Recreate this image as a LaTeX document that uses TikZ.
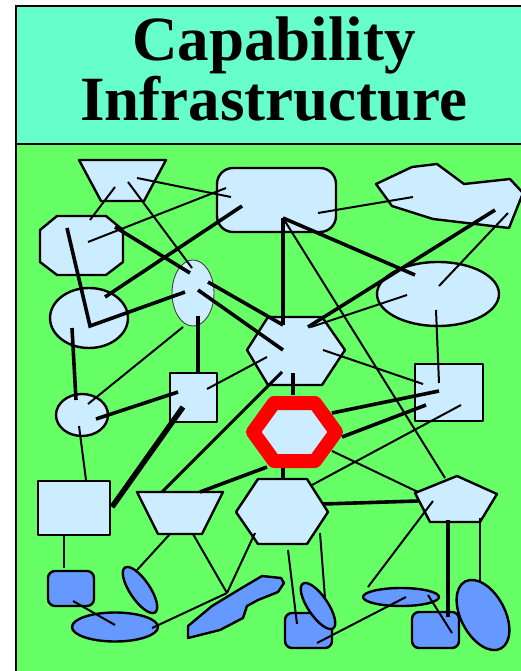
\documentclass[tikz,border=0pt]{standalone}
\usepackage{fontspec}
\setmainfont{Liberation Serif}
\definecolor{titlecyan}{RGB}{102,255,204}
\definecolor{bggreen}{RGB}{102,255,102}
\definecolor{lightblue}{RGB}{204,236,255}
\definecolor{darkblue}{RGB}{102,153,255}
\begin{document}
\begin{tikzpicture}[x=1pt,y=-1pt,
  lb/.style={draw=black, fill=lightblue, line width=2.4pt, line join=round},
  db/.style={draw=black, fill=darkblue, line width=2.4pt, line join=round},
  thinlink/.style={line width=2pt},
  thicklink/.style={line width=3.6pt},
  heavylink/.style={line width=5.5pt},
  titletext/.style={anchor=base, inner sep=0pt, font=\bfseries\fontsize{63}{63}\selectfont}]
\useasboundingbox (0,0) rectangle (521,671);
% background and frame
\fill[white] (0,0) rectangle (521,671);
\fill[titlecyan] (16,6) rectangle (521,144);
\fill[bggreen] (16,144) rectangle (521,671);
\draw[line width=2pt] (16,671) -- (16,6) -- (522,6);
\draw[line width=2pt] (16,144) -- (522,144);
\node[titletext] (t1) at (274,61) {Capability};
\node[titletext] (t2) at (274,121) {Infrastructure};
% light blue shapes
\draw[lb] (79,160) -- (166,160) -- (144,201) -- (101,201) -- cycle;
\draw[lb, rounded corners=16pt] (217,168) rectangle (336,232);
\draw[lb] (376,184) -- (412,167) -- (437,164) -- (464,184) -- (510,179) -- (523,193) -- (509,228) -- (433,219) -- (392,206) -- cycle;
\draw[lb] (57,216) -- (106,216) -- (123,230) -- (123,262) -- (106,275) -- (57,275) -- (40,262) -- (40,230) -- cycle;
\draw[lb] (89,318) ellipse [x radius=39pt, y radius=30pt];
\draw[fill=lightblue, draw=black!75, line width=0.9pt] (193,293) ellipse [x radius=21pt, y radius=33pt];
\draw[lb] (247,350) -- (268,317) -- (322,317) -- (345,350) -- (322,385) -- (268,385) -- cycle;
\draw[lb] (438,294) ellipse [x radius=61pt, y radius=32pt];
\draw[lb] (82,415) ellipse [x radius=26pt, y radius=21pt];
\draw[lb] (170,373) rectangle (217,422);
\draw[lb] (415,364) rectangle (483,421);
\draw[fill=lightblue, draw=red, line width=14pt, line join=round] (253,432) -- (274,403) -- (315,403) -- (336,432) -- (315,461) -- (274,461) -- cycle;
\draw[lb] (137,492) -- (223,492) -- (202,534) -- (158,534) -- cycle;
\draw[lb] (236,512) -- (258,479) -- (307,479) -- (328,512) -- (307,544) -- (258,544) -- cycle;
\draw[lb] (38,481) rectangle (110,535);
\draw[lb] (457,476) -- (497,494) -- (480,522) -- (430,522) -- (415,493) -- cycle;
% dark blue shapes
\draw[db, rounded corners=7pt] (48,571) rectangle (94,606);
\draw[db] (140,590) ellipse [x radius=27pt, y radius=10pt, rotate=-56];
\draw[db] (115,627) ellipse [x radius=43pt, y radius=14.5pt];
\draw[db] (188,626) -- (212,606) -- (240,589) -- (262,576) -- (281,578) -- (284,583) -- (278,592) -- (258,600) -- (247,606) -- (243,618) -- (220,630) -- (188,638) -- cycle;
\draw[db, rounded corners=7pt] (285,613) rectangle (332,648);
\draw[db] (318,606) ellipse [x radius=27pt, y radius=10pt, rotate=-56];
\draw[db] (401,597) ellipse [x radius=38pt, y radius=9pt];
\draw[db, rounded corners=7pt] (412,612) rectangle (459,648);
\draw[db] (483,615) ellipse [x radius=38pt, y radius=22pt, rotate=-62];
% connector end points
\coordinate (a1) at (115,187); \coordinate (a2) at (90,220);
\coordinate (b1) at (128,182); \coordinate (b2) at (192,268);
\coordinate (c1) at (137,178); \coordinate (c2) at (231,197);
\coordinate (d1) at (88,242);  \coordinate (d2) at (226,188);
\coordinate (e1) at (318,213); \coordinate (e2) at (413,197);
\coordinate (rr) at (283,218); \coordinate (f2) at (445,478);
\coordinate (g1) at (508,213); \coordinate (g2) at (439,286);
\coordinate (h1) at (407,295); \coordinate (h2) at (311,327);
\coordinate (i1) at (436,310); \coordinate (i2) at (439,383);
\coordinate (j1) at (183,327); \coordinate (j2) at (88,404);
\coordinate (k1) at (323,350); \coordinate (k2) at (423,384);
\coordinate (l1) at (267,357); \coordinate (l2) at (207,389);
\coordinate (m1) at (312,485); \coordinate (m2) at (461,405);
\coordinate (n1) at (332,451); \coordinate (n2) at (418,492);
\coordinate (o1) at (433,501); \coordinate (o2) at (368,587);
\coordinate (p1) at (480,518); \coordinate (p2) at (480,582);
\coordinate (q1) at (170,534); \coordinate (q2) at (137,570);
\coordinate (r1) at (193,534); \coordinate (pg) at (227,593);
\coordinate (s1) at (255,533);
\coordinate (u1) at (288,550); \coordinate (u2) at (297,624);
\coordinate (v1) at (320,533); \coordinate (v2) at (325,598);
\coordinate (w1) at (64,535);  \coordinate (w2) at (64,568);
\coordinate (x1) at (73,601);  \coordinate (x2) at (115,625);
\coordinate (y1) at (152,628);
\coordinate (z1) at (317,643); \coordinate (z2) at (406,597);
\coordinate (aa1) at (428,595); \coordinate (aa2) at (452,633);
\coordinate (bb1) at (79,426); \coordinate (bb2) at (86,480);
% thick ends
\coordinate (K1a) at (242,206); \coordinate (K1b) at (105,297);
\coordinate (K2a) at (115,227); \coordinate (K2b) at (190,273);
\coordinate (K3a) at (67,228);  \coordinate (K3b) at (90,326); \coordinate (K3c) at (185,292);
\coordinate (K4a) at (72,328);  \coordinate (K4b) at (76,400);
\coordinate (K5a) at (198,316); \coordinate (K5b) at (198,373);
\coordinate (K6a) at (208,282); \coordinate (hx) at (283,325);
\coordinate (K7a) at (198,290); \coordinate (K7b) at (283,350);
\coordinate (K9b) at (415,275);
\coordinate (K10a) at (495,210); \coordinate (K10b) at (308,327);
\coordinate (K11a) at (178,392); \coordinate (K11b) at (96,419);
\coordinate (K12a) at (282,372); \coordinate (K12b) at (162,492);
\coordinate (K13a) at (293,373); \coordinate (K13b) at (293,395);
\coordinate (K14a) at (332,413); \coordinate (K14b) at (439,391);
\coordinate (K15a) at (342,437); \coordinate (K15b) at (426,405);
\coordinate (K16a) at (267,467); \coordinate (K16b) at (200,492);
\coordinate (K17a) at (283,468); \coordinate (K17b) at (283,479);
\coordinate (K18a) at (323,504); \coordinate (K18b) at (418,501);
\coordinate (K19a) at (448,520); \coordinate (K19b) at (448,617);
\coordinate (H1a) at (183,407); \coordinate (H1b) at (112,507);
% thin connectors
\draw[thinlink] (a1) -- (a2);
\draw[thinlink] (b1) -- (b2);
\draw[thinlink] (c1) -- (c2);
\draw[thinlink] (d1) -- (d2);
\draw[thinlink] (e1) -- (e2);
\draw[thinlink] (rr) -- (f2);
\draw[thinlink] (g1) -- (g2);
\draw[thinlink] (h1) -- (h2);
\draw[thinlink] (i1) -- (i2);
\draw[thinlink] (j1) -- (j2);
\draw[thinlink] (k1) -- (k2);
\draw[thinlink] (l1) -- (l2);
\draw[thinlink] (m1) -- (m2);
\draw[thinlink] (n1) -- (n2);
\draw[thinlink] (o1) -- (o2);
\draw[thinlink] (p1) -- (p2);
\draw[thinlink] (q1) -- (q2);
\draw[thinlink] (r1) -- (pg);
\draw[thinlink] (s1) -- (pg);
\draw[thinlink] (u1) -- (u2);
\draw[thinlink] (v1) -- (v2);
\draw[thinlink] (w1) -- (w2);
\draw[thinlink] (x1) -- (x2);
\draw[thinlink] (y1) -- (pg);
\draw[thinlink] (z1) -- (z2);
\draw[thinlink] (aa1) -- (aa2);
\draw[thinlink] (bb1) -- (bb2);
% thick connectors
\draw[thicklink] (K1a) -- (K1b);
\draw[thicklink] (K2a) -- (K2b);
\draw[thicklink, line join=miter] (K3a) -- (K3b) -- (K3c);
\draw[thicklink] (K4a) -- (K4b);
\draw[thicklink] (K5a) -- (K5b);
\draw[thicklink] (K6a) -- (hx);
\draw[thicklink] (K7a) -- (K7b);
\draw[thicklink] (rr) -- (hx);
\draw[thicklink] (rr) -- (K9b);
\draw[thicklink] (K10a) -- (K10b);
\draw[thicklink] (K11a) -- (K11b);
\draw[line width=3pt] (K12a) -- (K12b);
\draw[thicklink] (K13a) -- (K13b);
\draw[thicklink] (K14a) -- (K14b);
\draw[thicklink] (K15a) -- (K15b);
\draw[thicklink] (K16a) -- (K16b);
\draw[thicklink] (K17a) -- (K17b);
\draw[thicklink] (K18a) -- (K18b);
\draw[thicklink] (K19a) -- (K19b);
\draw[heavylink] (H1a) -- (H1b);
\end{tikzpicture}
\end{document}
